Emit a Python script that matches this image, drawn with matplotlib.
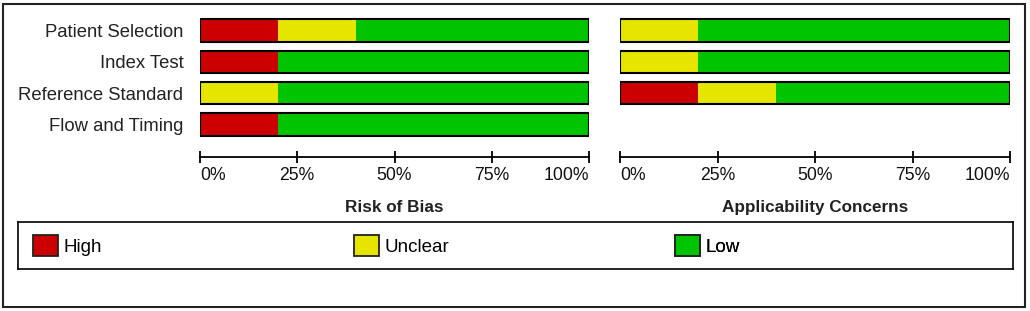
import matplotlib.pyplot as plt
from matplotlib.patches import Patch, Rectangle

plt.rcParams['font.family'] = ['Liberation Sans', 'DejaVu Sans']

# data (percent of studies)
domains = ['Patient Selection', 'Index Test', 'Reference Standard', 'Flow and Timing']
bias_high = [20, 20, 0, 20]
bias_unclear = [20, 0, 20, 0]
bias_low = [60, 80, 80, 80]
appl_high = [0, 0, 20]
appl_unclear = [20, 20, 20]
appl_low = [80, 80, 60]
categories = ['High', 'Unclear', 'Low']
colors = ['#cc0000', '#e5e500', '#00c400']
x_ticks = [0, 25, 50, 75, 100]
x_labels = ['0%', '25%', '50%', '75%', '100%']

W, H = 1030, 311


def box(x0, y0, x1, y1):
    # pixel box (top-left origin) -> figure fraction rect
    return [x0 / W, 1 - y1 / H, (x1 - x0) / W, (y1 - y0) / H]


fig = plt.figure(figsize=(W / 100, H / 100), dpi=100)


def draw_panel(rect, series, title, show_labels):
    ax = fig.add_axes(rect)
    n = len(series[0])
    rows = list(range(n))
    left = [0] * n
    for vals, col in zip(series, colors):
        ax.barh(rows, vals, left=left, height=0.72, color=col, edgecolor='none')
        left = [a + b for a, b in zip(left, vals)]
    ax.barh(rows, left, height=0.72, fill=False, edgecolor='black', linewidth=1.5)

    ax.set_xlim(0, 100)
    ax.set_ylim(4.044, -0.5)
    for s in ['top', 'left', 'right']:
        ax.spines[s].set_visible(False)
    ax.spines['bottom'].set_linewidth(1.3)
    ax.set_xticks(x_ticks)
    ax.set_xticklabels(x_labels, fontsize=12.7, color='#111111')
    ax.tick_params(axis='x', direction='inout', length=8, width=1.3, pad=3)
    tl = ax.get_xticklabels()
    tl[0].set_ha('left')
    tl[-1].set_ha('right')
    if show_labels:
        ax.set_yticks(range(len(domains)))
        ax.set_yticklabels(domains, fontsize=13.3, color='#222222')
        ax.tick_params(axis='y', length=0, pad=12)
    else:
        ax.set_yticks([])
    cx = (rect[0] + rect[2] / 2)
    fig.text(cx, 1 - 212 / H, title, ha='center', va='baseline',
             fontsize=12.3, fontweight='bold', color='#222222')
    return ax


draw_panel(box(200, 15, 589, 157), [bias_high, bias_unclear, bias_low],
           'Risk of Bias', True)
draw_panel(box(620, 15, 1010, 157), [appl_high, appl_unclear, appl_low],
           'Applicability Concerns', False)

# legend box
lax = fig.add_axes(box(18, 222, 1013, 269))
lax.set_xticks([])
lax.set_yticks([])
for s in lax.spines.values():
    s.set_linewidth(1.2)
key_x = [33, 354, 675]
for name, col, kx in zip(categories, colors, key_x):
    leg = lax.legend(handles=[Patch(facecolor=col, edgecolor='#222222', linewidth=1.3, label=name)],
                     loc='center left', bbox_to_anchor=((kx - 18) / 995, 0.5),
                     frameon=False, borderpad=0, borderaxespad=0,
                     handlelength=1.33, handleheight=1.33, handletextpad=0.3,
                     fontsize=13.5)
    lax.add_artist(leg)

# outer frame
fig.add_artist(Rectangle((3 / W, 4 / H), 1022 / W, 303 / H, transform=fig.transFigure,
                         fill=False, edgecolor='#222222', linewidth=1.5))

fig.savefig('out.png', dpi=100)
